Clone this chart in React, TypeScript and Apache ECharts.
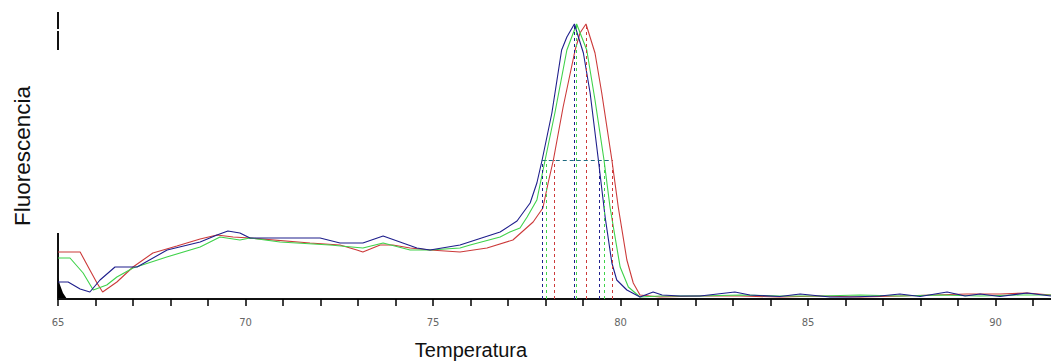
import React, { useEffect, useRef } from "react";
import * as echarts from "echarts";

// Temperatures (°C) and fluorescence values for each curve
const redTemps = [65.0, 65.59, 65.85, 66.04, 66.19, 66.57, 67.0, 67.53, 68.17, 68.79, 69.24, 69.67, 70.12, 71.72, 72.52, 72.97, 73.13, 73.59, 73.93, 74.39, 74.92, 75.72, 76.44, 77.13, 77.67, 77.93, 78.07, 78.21, 78.47, 78.79, 78.92, 79.08, 79.32, 79.5, 79.77, 79.94, 80.17, 80.34, 80.52, 81.05, 82.12, 83.19, 84.25, 85.32, 86.39, 87.45, 89.24, 90.12, 90.84, 91.48];
const redValues = [47, 47, 29, 16, 7, 17, 32, 46, 53, 60, 64, 62, 61, 56, 54, 49, 47, 54, 54, 51, 49, 47, 51, 59, 77, 91, 116, 139, 192, 249, 266, 275, 246, 206, 139, 92, 39, 16, 4, 2, 3, 3, 2, 3, 2, 3, 5, 5, 6, 4];

const greenTemps = [65.0, 65.32, 65.67, 65.94, 66.3, 66.57, 67.0, 67.9, 68.79, 69.32, 69.85, 70.12, 70.92, 72.25, 73.13, 73.67, 74.39, 74.92, 75.72, 75.99, 76.79, 77.05, 77.32, 77.51, 77.77, 77.99, 78.25, 78.57, 78.83, 79.1, 79.32, 79.56, 79.72, 79.99, 80.21, 80.52, 81.05, 82.12, 83.19, 84.25, 85.32, 86.39, 87.45, 88.52, 89.59, 90.65, 91.48];
const greenValues = [41, 41, 26, 9, 14, 22, 31, 42, 52, 62, 59, 61, 57, 54, 51, 56, 49, 49, 51, 54, 62, 67, 71, 82, 99, 139, 186, 249, 275, 249, 199, 139, 92, 32, 12, 2, 3, 3, 4, 3, 3, 4, 3, 4, 3, 4, 4];

const blueTemps = [65.0, 65.27, 65.59, 65.85, 66.12, 66.52, 67.11, 67.91, 68.79, 69.24, 69.53, 69.85, 70.12, 71.99, 72.52, 73.13, 73.67, 74.57, 74.92, 75.72, 76.79, 77.24, 77.59, 77.77, 77.91, 78.17, 78.43, 78.57, 78.77, 79.01, 79.19, 79.41, 79.59, 79.77, 79.9, 80.17, 80.52, 80.87, 81.11, 81.59, 82.12, 83.05, 83.45, 84.25, 84.79, 85.59, 86.12, 86.92, 87.45, 87.99, 88.71, 89.19, 89.59, 90.12, 90.84, 91.48];
const blueValues = [17, 17, 10, 7, 19, 32, 32, 49, 57, 64, 68, 66, 61, 61, 56, 56, 63, 51, 49, 54, 67, 78, 96, 116, 139, 186, 249, 262, 275, 246, 206, 139, 82, 36, 19, 9, 2, 7, 4, 3, 3, 7, 4, 2.5, 5, 2, 2, 3, 5, 2.5, 7, 3, 5, 2.5, 6, 3];

// Melting analysis markers: [left half-max, peak, right half-max]
const redMarks = [78.23, 79.08, 79.77];
const greenMarks = [78.01, 78.82, 79.56];
const blueMarks = [77.9, 78.77, 79.44];
const peakValue = 275;
const halfMaxValue = 139;

const xTicks = [65, 70, 75, 80, 85, 90];

const RED = "#cc3a3a";
const GREEN = "#3fd24a";
const BLUE = "#1e1e8c";
const TEAL = "#1f6a80";

function pairs(t: number[], v: number[]) {
  return t.map((x, i) => [x, v[i]]);
}

function markLinesFor(marks: number[]) {
  return [
    [{ coord: [marks[0], 0] }, { coord: [marks[0], halfMaxValue] }],
    [{ coord: [marks[1], 0] }, { coord: [marks[1], peakValue] }],
    [{ coord: [marks[2], 0] }, { coord: [marks[2], halfMaxValue] }],
  ];
}

function makeSeries(name: string, color: string, t: number[], v: number[], marks: number[], extra: any[] = []) {
  return {
    name,
    type: "line",
    data: pairs(t, v),
    showSymbol: false,
    symbol: "none",
    smooth: false,
    lineStyle: { color, width: 1.1 },
    itemStyle: { color },
    markLine: {
      silent: true,
      symbol: "none",
      label: { show: false },
      lineStyle: { color, type: [3, 3], width: 1 },
      data: [...markLinesFor(marks), ...extra],
    },
  };
}

export default function App() {
  const ref = useRef<HTMLDivElement>(null);
  useEffect(() => {
    if (!ref.current) return;
    const chart = echarts.init(ref.current, undefined, { renderer: "svg" });
    const halfLine = [
      {
        coord: [blueMarks[0], halfMaxValue],
        lineStyle: { color: TEAL, type: [4, 3], width: 1 },
      },
      { coord: [redMarks[2], halfMaxValue] },
    ];
    chart.setOption({
      animation: false,
      backgroundColor: "#ffffff",
      grid: { left: 58, right: 0, top: 9, bottom: 64, containLabel: false, outerBoundsMode: "none" },
      xAxis: {
        type: "value",
        min: 65,
        max: 91.48,
        interval: 1,
        axisLine: { show: true, onZero: false, lineStyle: { color: "#111", width: 2 } },
        axisTick: { show: true, length: 7, lineStyle: { color: "#000", width: 1.5 } },
        splitLine: { show: false },
        axisLabel: {
          margin: 18,
          color: "#666",
          fontSize: 10,
          fontFamily: "DejaVu Sans",
          showMaxLabel: false,
          formatter: (val: number) => (xTicks.includes(val) ? String(val) : ""),
        },
      },
      yAxis: {
        type: "value",
        min: 0,
        max: 290,
        axisLine: { show: false },
        axisTick: { show: false },
        axisLabel: { show: false },
        splitLine: { show: false },
      },
      series: [
        makeSeries("red", RED, redTemps, redValues, redMarks),
        makeSeries("green", GREEN, greenTemps, greenValues, greenMarks),
        makeSeries("blue", BLUE, blueTemps, blueValues, blueMarks, [halfLine]),
      ],
      graphic: [
        { type: "line", shape: { x1: 58, y1: 12, x2: 58, y2: 29 }, style: { stroke: "#111", lineWidth: 2 } },
        { type: "line", shape: { x1: 58, y1: 31, x2: 58, y2: 50 }, style: { stroke: "#111", lineWidth: 2 } },
        { type: "line", shape: { x1: 58, y1: 233, x2: 58, y2: 299 }, style: { stroke: "#111", lineWidth: 2 } },
        {
          type: "polygon",
          shape: { points: [[58, 278], [60, 285], [63, 293], [67, 299], [58, 299]] },
          style: { fill: "#000" },
        },
        {
          type: "text",
          x: 22,
          y: 156,
          rotation: Math.PI / 2,
          style: {
            text: "Fluorescencia",
            fill: "#111",
            fontSize: 22.5,
            fontFamily: "Liberation Sans",
            align: "center",
            verticalAlign: "middle",
          },
        },
        {
          type: "text",
          x: 471,
          y: 350,
          style: {
            text: "Temperatura",
            fill: "#111",
            fontSize: 20,
            fontFamily: "Liberation Sans",
            align: "center",
            verticalAlign: "middle",
          },
        },
      ],
    });
    return () => chart.dispose();
  }, []);
  return (
    <div
      ref={ref}
      style={{ position: "absolute", left: 0, top: 0, width: 1051, height: 363, background: "#fff" }}
    />
  );
}
